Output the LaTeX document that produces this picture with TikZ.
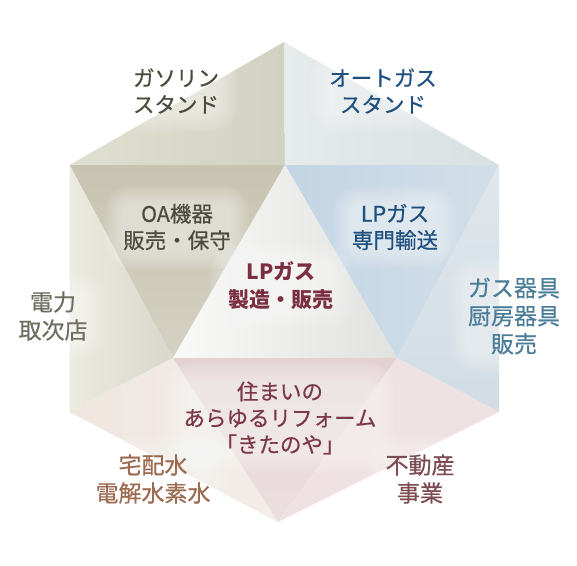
\documentclass[tikz,border=0pt]{standalone}
\usepackage{fontspec}
\setmainfont{Noto Sans CJK JP}[FakeBold=0.5,BoldFeatures={FakeBold=0}]
\usetikzlibrary{calc}
\pgfdeclarelayer{back}
\pgfdeclarelayer{glow}
\pgfsetlayers{back,glow,main}
\definecolor{txolive}{HTML}{4B4A3C}
\definecolor{txblue}{HTML}{1F4F7F}
\definecolor{txwine}{HTML}{7B2E40}
\definecolor{txgray}{HTML}{6E6F60}
\definecolor{txteal}{HTML}{4A7D98}
\definecolor{txrose}{HTML}{7C3848}
\definecolor{txbrown}{HTML}{9C6A4E}
\definecolor{txplum}{HTML}{7D4B52}

\begin{document}
\begin{tikzpicture}
	[x=1pt,y=-1pt,
	 lbl/.style={align=center,inner sep=0pt,font=\fontsize{21.5}{26.5}\selectfont},
	 biglbl/.style={lbl,font=\fontsize{23}{28}\selectfont}]
\useasboundingbox (0,0) rectangle (577,565);
% corners of the hexagon and of the inner triangle
\coordinate (top) at (284,42);
\coordinate (ul) at (69.5,165);
\coordinate (ur) at (499,165);
\coordinate (ll) at (69.5,412);
\coordinate (lr) at (499,412);
\coordinate (bot) at (278,522);
\coordinate (it) at (285,165);
\coordinate (ibl) at (173,358);
\coordinate (ibr) at (397,358);
% facets
\begin{pgfonlayer}{back}
\shade[left color={rgb,255:red,224;green,224;blue,210},right color={rgb,255:red,210;green,210;blue,194}] (ul) -- (top) -- (it) -- cycle;
\shade[left color={rgb,255:red,230;green,235;blue,235},right color={rgb,255:red,216;green,224;blue,227}] (top) -- (ur) -- (it) -- cycle;
\shade[top color={rgb,255:red,200;green,196;blue,178},bottom color={rgb,255:red,212;green,209;blue,194}] (ul) -- (it) -- (ibl) -- cycle;
\shade[left color={rgb,255:red,195;green,213;blue,228},right color={rgb,255:red,210;green,223;blue,233}] (it) -- (ur) -- (ibr) -- cycle;
\shade[left color={rgb,255:red,249;green,249;blue,248},right color={rgb,255:red,225;green,226;blue,224}] (it) -- (ibl) -- (ibr) -- cycle;
\shade[left color={rgb,255:red,236;green,235;blue,224},right color={rgb,255:red,216;green,215;blue,203}] (ul) -- (ibl) -- (ll) -- cycle;
\shade[top color={rgb,255:red,224;green,231;blue,236},bottom color={rgb,255:red,209;green,220;blue,229}] (ur) -- (lr) -- (ibr) -- cycle;
\shade[left color={rgb,255:red,239;green,230;blue,224},right color={rgb,255:red,244;green,236;blue,232}] (ll) -- (ibl) -- (bot) -- cycle;
\shade[top color={rgb,255:red,228;green,210;blue,211},bottom color={rgb,255:red,236;green,223;blue,224}] (ibl) -- (ibr) -- (bot) -- cycle;
\shade[left color={rgb,255:red,240;green,226;blue,226},right color={rgb,255:red,238;green,226;blue,226}] (ibr) -- (lr) -- (bot) -- cycle;
\end{pgfonlayer}
% labels
\node[lbl,txolive] (gasst) at (176,91) {ガソリン\\スタンド};
\node[lbl,txblue] (autost) at (383,91) {オートガス\\スタンド};
\node[lbl,txolive] (oa) at (177,227) {OA機器\\販売・保守};
\node[lbl,txblue] (lptrans) at (395,227) {LPガス\\専門輸送};
\node[lbl,txwine,font=\fontsize{21}{28}\selectfont\bfseries] (core) at (281,286) {LPガス\\製造・販売};
\node[biglbl,txgray] (elec) at (53,316) {電力\\取次店};
\node[biglbl,txteal] (appl) at (514,316) {ガス器具\\厨房器具\\販売};
\node[lbl,txrose] (home) at (280,418) {住まいの\\あらゆるリフォーム\\「きたのや」};
\node[biglbl,txbrown] (water) at (153,479) {宅配水\\電解水素水};
\node[biglbl,txplum] (estate) at (420,479) {不動産\\事業};
% soft white halo behind the labels
\begin{pgfonlayer}{glow}
\foreach \n in {gasst,autost,oa,lptrans,core,elec,appl,home,water,estate}
  \foreach \r in {0,3,...,18}
    \fill[white,opacity=0.08,rounded corners={(\r+8)*1pt}]
      ([xshift=-\r pt,yshift=-\r pt]\n.south west) rectangle ([xshift=\r pt,yshift=\r pt]\n.north east);
\end{pgfonlayer}
\end{tikzpicture}
\end{document}
